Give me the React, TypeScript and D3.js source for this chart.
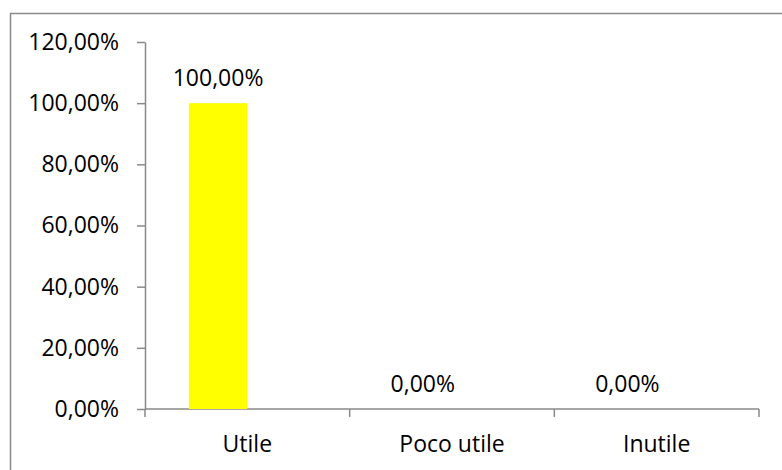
import React, {useEffect, useRef} from 'react';
import * as d3 from 'd3';

// categories on the x axis
const categories: string[] = ["Utile", "Poco utile", "Inutile"];
// the sheet has two series slots per category, only the first one holds values
const seriesSlots: string[] = ["Serie1", "Serie2"];
const values: number[] = [1, 0, 0];
// y axis ticks
const yTicks: number[] = [0, 0.2, 0.4, 0.6, 0.8, 1, 1.2];

const App = () => {
  const ref = useRef<SVGSVGElement | null>(null);

  useEffect(() => {
    drawChart();
    return () => {
      d3.select(ref.current).selectAll("*").remove();
    };
  }, []);

  const drawChart = () => {
    const width = 782;
    const height = 470;
    const plot = {left: 145, right: 759, top: 42, bottom: 409};
    const font = "'Open Sans', sans-serif";
    const fontSize = 23;
    const grey = "#898989";

    const it = d3.formatLocale({decimal: ",", thousands: ".", grouping: [3], currency: ["", "€"]});
    const pct = it.format(".2%");

    const svg = d3.select(ref.current)
      .attr("width", width)
      .attr("height", height);

    svg.append("rect")
      .attr("width", width)
      .attr("height", height)
      .attr("fill", "white");

    // chart area border (runs off the right and bottom of the picture)
    svg.append("rect")
      .attr("x", 10.5)
      .attr("y", 13.5)
      .attr("width", 800)
      .attr("height", 500)
      .attr("fill", "none")
      .attr("stroke", grey)
      .attr("stroke-width", 1.5);

    const x = d3.scaleBand<string>()
      .domain(categories)
      .range([plot.left, plot.right])
      .padding(0);

    // excel gap width 150% -> half gap on each side of the cluster
    const xInner = d3.scaleBand<string>()
      .domain(seriesSlots)
      .range([0, x.bandwidth()])
      .paddingInner(0)
      .paddingOuter(0.75);

    const y = d3.scaleLinear()
      .domain([0, 1.2])
      .range([plot.bottom, plot.top]);

    // y axis
    const yAxis = svg.append("g")
      .attr("transform", `translate(${plot.left},0)`)
      .call(d3.axisLeft(y).tickValues(yTicks).tickFormat(d => pct(d as number)).tickSize(8).tickSizeOuter(0).tickPadding(18));
    yAxis.select(".domain").attr("stroke", grey).attr("stroke-width", 1.5);
    yAxis.selectAll(".tick line").attr("stroke", grey).attr("stroke-width", 1.5);
    yAxis.selectAll(".tick text")
      .attr("font-family", font)
      .attr("font-size", fontSize)
      .attr("fill", "#000");

    // x axis, ticks at category boundaries
    const xAxis = svg.append("g")
      .attr("transform", `translate(0,${plot.bottom})`);
    xAxis.append("line")
      .attr("x1", plot.left)
      .attr("x2", plot.right)
      .attr("stroke", grey)
      .attr("stroke-width", 1.5);
    const bounds = categories.map(c => x(c) as number).concat([plot.right]);
    xAxis.selectAll(".xtick")
      .data(bounds)
      .enter().append("line")
      .attr("class", "xtick")
      .attr("x1", d => d)
      .attr("x2", d => d)
      .attr("y1", 0)
      .attr("y2", 8)
      .attr("stroke", grey)
      .attr("stroke-width", 1.5);
    xAxis.selectAll(".xlabel")
      .data(categories)
      .enter().append("text")
      .attr("class", "xlabel")
      .attr("x", d => (x(d) as number) + x.bandwidth() / 2)
      .attr("y", 43)
      .attr("text-anchor", "middle")
      .attr("font-family", font)
      .attr("font-size", fontSize)
      .attr("fill", "#000")
      .text(d => d);

    // bars of the first series
    const barX = (i: number) => (x(categories[i]) as number) + (xInner(seriesSlots[0]) as number);
    svg.selectAll(".bar")
      .data(values)
      .enter().append("rect")
      .attr("class", "bar")
      .attr("x", (d, i) => barX(i))
      .attr("y", d => y(d))
      .attr("width", xInner.bandwidth())
      .attr("height", d => plot.bottom - y(d))
      .attr("fill", "#ffff00");

    svg.selectAll(".label")
      .data(values)
      .enter().append("text")
      .attr("class", "label")
      .attr("x", (d, i) => barX(i) + xInner.bandwidth() / 2)
      .attr("y", d => y(d) - 17)
      .attr("text-anchor", "middle")
      .attr("font-family", font)
      .attr("font-size", fontSize)
      .attr("fill", "#000")
      .text(d => pct(d));
  };

  return (
    <svg ref={ref} style={{position: "fixed", left: 0, top: 0}}></svg>
  );
};

export default App;
